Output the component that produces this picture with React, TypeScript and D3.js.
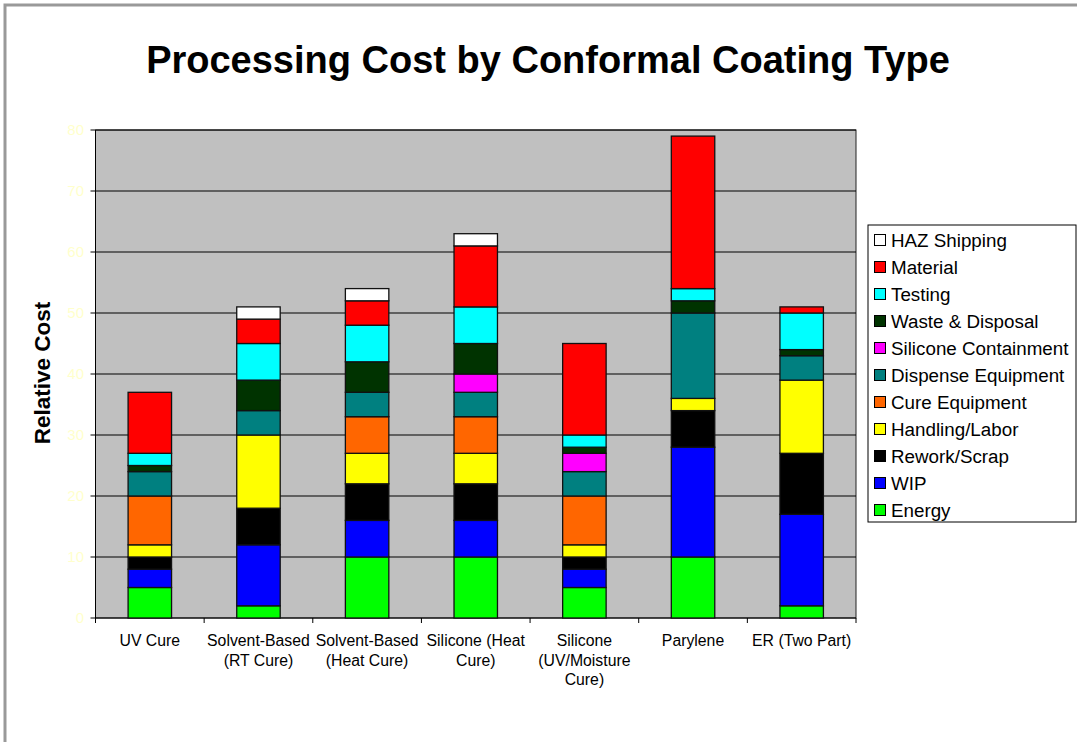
import * as d3 from 'd3'

// categories along the x axis (line breaks as in the original labels)
const categories = [
  'UV Cure',
  'Solvent-Based (RT Cure)',
  'Solvent-Based (Heat Cure)',
  'Silicone (Heat Cure)',
  'Silicone (UV/Moisture Cure)',
  'Parylene',
  'ER (Two Part)',
]
const categoryLines = [
  ['UV Cure'],
  ['Solvent-Based', '(RT Cure)'],
  ['Solvent-Based', '(Heat Cure)'],
  ['Silicone (Heat', 'Cure)'],
  ['Silicone', '(UV/Moisture', 'Cure)'],
  ['Parylene'],
  ['ER (Two Part)'],
]

// series values, bottom of the stack first
const energy = [5, 2, 10, 10, 5, 10, 2]
const wip = [3, 10, 6, 6, 3, 18, 15]
const reworkScrap = [2, 6, 6, 6, 2, 6, 10]
const handlingLabor = [2, 12, 5, 5, 2, 2, 12]
const cureEquipment = [8, 0, 6, 6, 8, 0, 0]
const dispenseEquipment = [4, 4, 4, 4, 4, 14, 4]
const siliconeContainment = [0, 0, 0, 3, 3, 0, 0]
const wasteDisposal = [1, 5, 5, 5, 1, 2, 1]
const testing = [2, 6, 6, 6, 2, 2, 6]
const material = [10, 4, 4, 10, 15, 25, 1]
const hazShipping = [0, 2, 2, 2, 0, 0, 0]

const seriesNames = [
  'Energy',
  'WIP',
  'Rework/Scrap',
  'Handling/Labor',
  'Cure Equipment',
  'Dispense Equipment',
  'Silicone Containment',
  'Waste & Disposal',
  'Testing',
  'Material',
  'HAZ Shipping',
]
const seriesValues = [
  energy,
  wip,
  reworkScrap,
  handlingLabor,
  cureEquipment,
  dispenseEquipment,
  siliconeContainment,
  wasteDisposal,
  testing,
  material,
  hazShipping,
]
const seriesColors = [
  '#00FF00',
  '#0000FF',
  '#000000',
  '#FFFF00',
  '#FF6600',
  '#008080',
  '#FF00FF',
  '#003300',
  '#00FFFF',
  '#FF0000',
  '#FFFFFF',
]

const yTicks = [0, 10, 20, 30, 40, 50, 60, 70, 80]

const W = 1077
const H = 742
const plot = { left: 95.5, right: 856, top: 130, bottom: 618 }

export default function App() {
  type Row = { category: string } & Record<string, number | string>
  const rows: Row[] = categories.map((c, i) => {
    const r: Row = { category: c }
    seriesNames.forEach((s, k) => {
      r[s] = seriesValues[k][i]
    })
    return r
  })

  const stack = d3.stack<Row>().keys(seriesNames).value((d, key) => d[key] as number)
  const layers = stack(rows)

  const x = d3.scaleBand<string>().domain(categories).range([plot.left, plot.right]).paddingInner(0).paddingOuter(0)
  const y = d3.scaleLinear().domain([0, 80]).range([plot.bottom, plot.top])
  const barW = x.bandwidth() * 0.4
  const color = d3.scaleOrdinal<string, string>().domain(seriesNames).range(seriesColors)

  const legendNames = [...seriesNames].reverse()
  const legend = { x: 868, y: 225, w: 208, h: 297, row: 27 }

  return (
    <svg
      width={W}
      height={H}
      style={{ position: 'absolute', left: 0, top: 0, fontFamily: 'Liberation Sans, Arial, sans-serif' }}
    >
      <rect x={0} y={0} width={W} height={H} fill="#fff" />
      {/* outer chart frame, runs past the right/bottom edge */}
      <rect x={5} y={5} width={W + 10} height={H + 10} fill="none" stroke="#999" strokeWidth={3} />

      <text x={548} y={73} textAnchor="middle" fontSize={38} fontWeight="bold" fill="#000">
        Processing Cost by Conformal Coating Type
      </text>

      {/* plot area */}
      <rect
        x={plot.left}
        y={plot.top}
        width={plot.right - plot.left}
        height={plot.bottom - plot.top}
        fill="#C0C0C0"
        stroke="#222"
        strokeWidth={1}
      />
      {yTicks.map((t) => (
        <g key={t}>
          <line x1={plot.left} x2={plot.right} y1={y(t)} y2={y(t)} stroke="#000" strokeWidth={1} />
          <line x1={plot.left - 5} x2={plot.left} y1={y(t)} y2={y(t)} stroke="#000" strokeWidth={1} />
          <text x={84} y={y(t)} dy="0.36em" textAnchor="end" fontSize={15} fill="#FFFFCC">
            {t}
          </text>
        </g>
      ))}
      <line x1={plot.left} x2={plot.left} y1={plot.top} y2={plot.bottom + 5} stroke="#000" strokeWidth={1} />

      {/* x axis ticks at category boundaries */}
      {categories.map((c) => (
        <line
          key={c}
          x1={x(c)! + x.bandwidth()}
          x2={x(c)! + x.bandwidth()}
          y1={plot.bottom}
          y2={plot.bottom + 5}
          stroke="#000"
          strokeWidth={1}
        />
      ))}

      {layers.map((layer) => (
        <g key={layer.key} fill={color(layer.key)}>
          {layer.map((d, i) => {
            if (d[1] - d[0] <= 0) return null
            const cx = x(categories[i])! + x.bandwidth() / 2
            return (
              <rect
                key={i}
                x={cx - barW / 2}
                y={y(d[1])}
                width={barW}
                height={y(d[0]) - y(d[1])}
                stroke="#111"
                strokeWidth={1.3}
              />
            )
          })}
        </g>
      ))}

      {categoryLines.map((lines, i) => (
        <text
          key={categories[i]}
          x={x(categories[i])! + x.bandwidth() / 2}
          y={646}
          textAnchor="middle"
          fontSize={15.8}
          fill="#000"
        >
          {lines.map((l, k) => (
            <tspan key={k} x={x(categories[i])! + x.bandwidth() / 2} dy={k === 0 ? 0 : 19.5}>
              {l}
            </tspan>
          ))}
        </text>
      ))}

      <text
        transform={`translate(50,${(plot.top + plot.bottom) / 2 - 1}) rotate(-90)`}
        textAnchor="middle"
        fontSize={22.5}
        fontWeight="bold"
        fill="#000"
      >
        Relative Cost
      </text>

      {/* legend */}
      <rect x={legend.x} y={legend.y} width={legend.w} height={legend.h} fill="#fff" stroke="#000" strokeWidth={1} />
      {legendNames.map((name, k) => {
        const cy = legend.y + 15 + k * legend.row
        return (
          <g key={name}>
            <rect x={874.5} y={cy - 5.5} width={11} height={11} fill={color(name)} stroke="#000" strokeWidth={1} />
            <text x={891} y={cy} dy="0.36em" fontSize={18.8} fill="#000">
              {name}
            </text>
          </g>
        )
      })}
    </svg>
  )
}
